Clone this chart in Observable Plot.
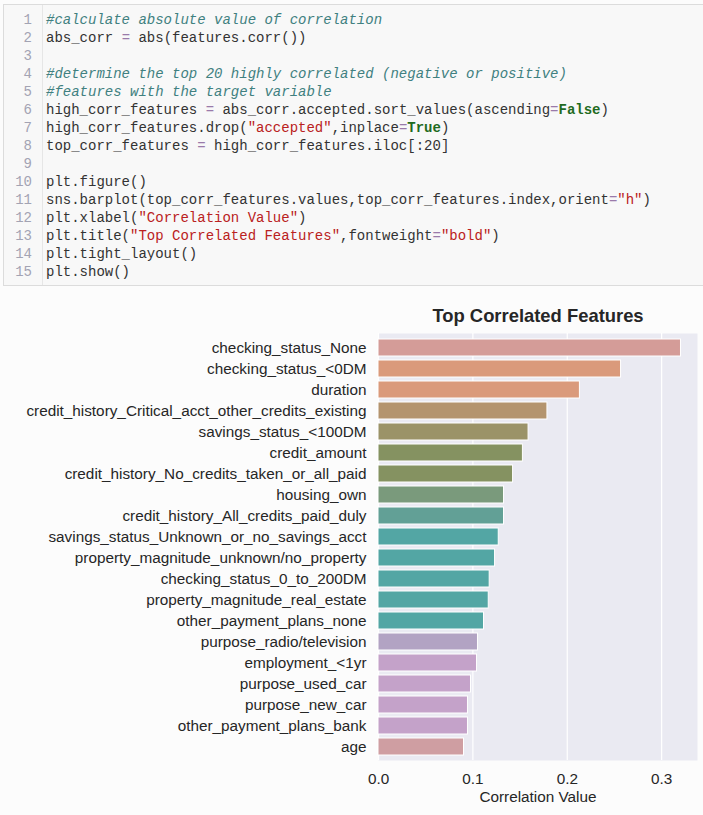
<!DOCTYPE html>
<html>
<head>
<meta charset="utf-8">
<script src="https://cdn.jsdelivr.net/npm/d3@7"></script>
<script src="https://cdn.jsdelivr.net/npm/@observablehq/plot@0.6"></script>
<style>
  html, body { margin: 0; padding: 0; background: #fcfcfc; width: 703px; height: 815px; overflow: hidden; }
  #code { position: absolute; left: 3px; top: 4px; width: 705px; height: 282px; background: #f8f8f8; border: 1px solid #dcdcdc; box-sizing: border-box; }
  #gutter { position: absolute; left: 38px; top: 0; width: 1px; height: 100%; background: #e6e6e6; }
  .ln { position: absolute; left: 0; width: 28px; text-align: right; font-family: "Liberation Mono", "DejaVu Sans Mono", monospace; font-size: 14px; line-height: 18px; color: #a3a3b3; }
  .cl { position: absolute; left: 42px; font-family: "Liberation Mono", "DejaVu Sans Mono", monospace; font-size: 14px; line-height: 18px; color: #333; white-space: pre; }
  .c { color: #408080; font-style: italic; }
  .s { color: #BA2121; }
  .o { color: #9a7aaa; }
  .k { color: #1f6b1f; font-weight: bold; }
  #chart { position: absolute; left: 0; top: 290px; }
</style>
</head>
<body>
<div id="code"></div>
<div id="chart"></div>
<script>
// ---- data ----
const features = [
  "checking_status_None",
  "checking_status_<0DM",
  "duration",
  "credit_history_Critical_acct_other_credits_existing",
  "savings_status_<100DM",
  "credit_amount",
  "credit_history_No_credits_taken_or_all_paid",
  "housing_own",
  "credit_history_All_credits_paid_duly",
  "savings_status_Unknown_or_no_savings_acct",
  "property_magnitude_unknown/no_property",
  "checking_status_0_to_200DM",
  "property_magnitude_real_estate",
  "other_payment_plans_none",
  "purpose_radio/television",
  "employment_<1yr",
  "purpose_used_car",
  "purpose_new_car",
  "other_payment_plans_bank",
  "age"
];
const values = [0.3205, 0.257, 0.2134, 0.179, 0.159, 0.153, 0.1426, 0.133, 0.133, 0.1274,
                0.1235, 0.1178, 0.1168, 0.1118, 0.1054, 0.1044, 0.098, 0.0948, 0.0948, 0.0906];
const colors = ["#d49c98", "#da9a7b", "#da9a7b", "#b4946e", "#9b9368", "#859261", "#859261", "#7a9a7c",
                "#62a096", "#53a6a4", "#53a6a4", "#53a6a4", "#53a6a4", "#53a6a4", "#b2a3c3", "#c4a2c9",
                "#c4a2c9", "#c4a2c9", "#c4a2c9", "#cf9ea2"];
const xTicks = [0, 0.1, 0.2, 0.3];
const titleText = "Top Correlated Features";
const xLabel = "Correlation Value";

// ---- code block (text) ----
const codeLines = [
  '<span class="c">#calculate absolute value of correlation</span>',
  'abs_corr <span class="o">=</span> abs(features.corr())',
  '',
  '<span class="c">#determine the top 20 highly correlated (negative or positive)</span>',
  '<span class="c">#features with the target variable</span>',
  'high_corr_features <span class="o">=</span> abs_corr.accepted.sort_values(ascending<span class="o">=</span><span class="k">False</span>)',
  'high_corr_features.drop(<span class="s">"accepted"</span>,inplace<span class="o">=</span><span class="k">True</span>)',
  'top_corr_features <span class="o">=</span> high_corr_features.iloc[:20]',
  '',
  'plt.figure()',
  'sns.barplot(top_corr_features.values,top_corr_features.index,orient<span class="o">=</span><span class="s">"h"</span>)',
  'plt.xlabel(<span class="s">"Correlation Value"</span>)',
  'plt.title(<span class="s">"Top Correlated Features"</span>,fontweight<span class="o">=</span><span class="s">"bold"</span>)',
  'plt.tight_layout()',
  'plt.show()'
];
const code = document.getElementById("code");
let html = '<div id="gutter"></div>';
codeLines.forEach((l, i) => {
  const top = 6 + 18 * i;
  html += `<div class="ln" style="top:${top}px">${i + 1}</div>`;
  html += `<div class="cl" style="top:${top}px">${l}</div>`;
});
code.innerHTML = html;

// ---- chart ----
const data = features.map((f, i) => ({feature: f, value: values[i], color: colors[i]}));
const fs = 15.3;

const chart = Plot.plot({
  width: 703,
  height: 525,
  marginLeft: 378,
  marginRight: 6,
  marginTop: 43,
  marginBottom: 55,
  style: {fontFamily: "'Liberation Sans', Arial, sans-serif", fontSize: fs + "px", color: "#262626", background: "transparent"},
  x: {domain: [0, 0.338], ticks: xTicks, tickFormat: d3.format(".1f"), label: null},
  y: {domain: features, paddingInner: 0.2, paddingOuter: 0.1, label: null},
  marks: [
    Plot.frame({fill: "#eaeaf2", stroke: null}),
    Plot.gridX(xTicks, {stroke: "white", strokeOpacity: 1, strokeWidth: 1.2}),
    Plot.barX(data, {x: "value", y: "feature", fill: "color", stroke: "white", strokeWidth: 1}),
    Plot.axisX({ticks: xTicks, tickSize: 0, tickPadding: 13, tickFormat: d3.format(".1f"), label: null, fontSize: fs}),
    Plot.axisY({tickSize: 0, tickPadding: 12, label: null, fontSize: fs}),
    Plot.text([titleText], {frameAnchor: "top", lineAnchor: "middle", dy: -17, fontWeight: "bold", fontSize: 18.4, fill: "#262626"}),
    Plot.text([xLabel], {frameAnchor: "bottom", lineAnchor: "middle", dy: 37, fontSize: fs, fill: "#262626"})
  ]
});
document.getElementById("chart").appendChild(chart);
</script>
</body>
</html>
